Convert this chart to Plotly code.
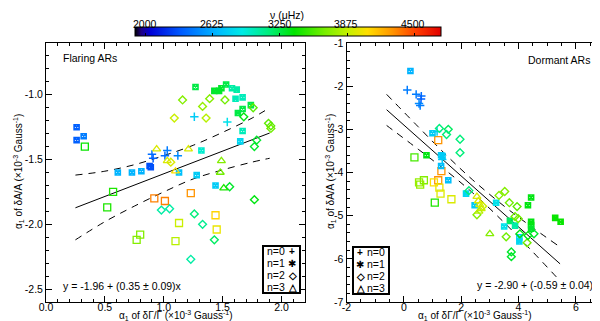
import plotly.graph_objects as go

# ---------------- data ----------------
# Left panel: Flaring ARs  (x = alpha1 of dGamma/Gamma, y = alpha1 of dA/A, f = frequency in muHz)
fl_n0_x = [1.26, 1.54, 1.03, 0.90, 0.91, 1.01, 1.12]
fl_n0_y = [-1.17, -1.21, -1.43, -1.46, -1.49, -1.47, -1.47]
fl_n0_f = [2750, 2850, 2450, 2400, 2350, 2400, 2500]

fl_n1_x = [1.27, 1.43, 1.47, 1.49, 1.53, 1.58, 1.62, 1.61, 1.67, 1.74, 1.67, 1.63, 0.26, 0.26, 0.32,
           1.67, 1.65, 1.32, 0.88, 0.89, 1.13, 0.61, 0.73, 0.81, 1.28, 1.44]
fl_n1_y = [-0.94, -0.97, -0.97, -0.95, -0.92, -0.95, -0.96, -1.03, -1.02, -1.08, -1.11, -1.14, -1.25, -1.35, -1.32,
           -1.28, -1.36, -1.43, -1.55, -1.56, -1.60, -1.60, -1.60, -1.59, -1.62, -1.70]
fl_n1_f = [3250, 3300, 3300, 3300, 3250, 3050, 3050, 3000, 3000, 3250, 3250, 3250, 2350, 2350, 2450,
           3000, 2800, 2950, 2300, 2300, 2700, 2650, 2650, 2650, 2750, 2750]

fl_n2_x = [1.16, 1.39, 1.52, 1.33, 1.76, 1.09, 1.36, 1.68, 1.89, 1.91, 1.91, 1.79, 1.77, 1.06, 1.56, 1.77,
           0.98, 1.05, 1.26, 1.33, 1.43, 1.23]
fl_n2_y = [-1.04, -1.03, -1.04, -1.09, -1.10, -1.18, -1.18, -1.17, -1.22, -1.24, -1.26, -1.35, -1.40, -1.52, -1.71, -1.81,
           -1.89, -1.88, -1.92, -2.00, -2.12, -2.27]
fl_n2_f = [3700, 3700, 3650, 3750, 3600, 3900, 3850, 3350, 3600, 3600, 3650, 3300, 3300, 3950, 3300, 3350,
           3050, 3050, 3150, 3100, 3200, 3050]

fl_n3_x = [0.94, 1.21, 1.03, 1.10, 1.49, 1.48, 1.51]
fl_n3_y = [-1.42, -1.42, -1.51, -1.59, -1.51, -1.60, -1.72]
fl_n3_f = [3950, 3950, 3950, 4050, 3700, 3650, 3450]

fl_sq_x = [0.33, 0.57, 0.52, 0.92, 1.01, 1.23, 1.44, 0.80, 0.77, 1.10, 1.13, 1.45]
fl_sq_y = [-1.40, -1.75, -1.87, -1.80, -1.82, -1.76, -1.93, -2.08, -2.12, -2.13, -1.99, -2.04]
fl_sq_f = [3400, 3450, 3450, 4350, 4350, 4300, 4100, 3700, 3700, 3850, 3900, 4000]

# Fit: y = -1.96 + 0.35 x, and dashed confidence band
fl_fit_a, fl_fit_b = -1.96, 0.35
fl_fit_xrange = [0.25, 1.9]
fl_band_x = [0.25, 0.5, 0.75, 1.0, 1.25, 1.5, 1.75, 1.9]
fl_band_hi = [-1.62, -1.59, -1.54, -1.47, -1.39, -1.29, -1.18, -1.10]
fl_band_lo = [-2.12, -1.98, -1.86, -1.75, -1.65, -1.58, -1.52, -1.49]

# Right panel: Dormant ARs
dm_n0_x = [0.12, 0.43, 0.61, 0.60, 0.53, 0.57, 1.16, 1.34]
dm_n0_y = [-2.09, -2.19, -2.23, -2.30, -2.40, -2.45, -3.05, -3.70]
dm_n0_f = [2450, 2450, 2400, 2350, 2500, 2450, 2750, 2750]

dm_n1_x = [0.23, 1.00, 0.79, 1.30, 1.35, 1.30, 1.55, 2.17, 3.22, 2.47, 4.44, 4.33, 5.28, 5.47, 3.70, 4.44,
           3.50, 3.88, 4.44, 4.44, 4.03, 4.03]
dm_n1_y = [-1.65, -3.09, -3.60, -3.60, -3.62, -3.85, -4.18, -4.49, -4.70, -4.76, -4.58, -4.76, -5.05, -5.14, -5.12, -5.14,
           -5.25, -5.23, -5.22, -5.30, -5.50, -5.60]
dm_n1_f = [2650, 2750, 3350, 2750, 2750, 2700, 2700, 2800, 2850, 2750, 3350, 3350, 3400, 3400, 3200, 3350,
           2850, 3050, 3350, 3300, 2800, 2800]

dm_n2_x = [1.24, 1.55, 1.49, 1.96, 1.96, 2.27, 3.32, 3.52, 3.68, 3.95, 3.88, 3.99, 3.57, 4.05, 4.30, 4.33,
           4.54, 3.75, 3.75, 2.75, 2.55]
dm_n2_y = [-2.98, -3.00, -3.12, -3.23, -3.54, -4.42, -4.53, -4.44, -4.70, -4.79, -5.02, -5.07, -5.49, -5.42, -5.63, -5.46,
           -5.42, -5.84, -5.95, -4.78, -4.98]
dm_n2_f = [3150, 3200, 3150, 3150, 3150, 3150, 3700, 3700, 3650, 3600, 3650, 3650, 3650, 3350, 3650, 3350,
           3300, 3300, 3300, 3900, 3700]

dm_n3_x = [2.55, 2.60, 2.65, 2.70, 2.62, 3.00]
dm_n3_y = [-4.56, -4.66, -4.75, -4.84, -4.90, -5.42]
dm_n3_f = [3950, 3950, 3950, 3900, 3850, 3700]

dm_sq_x = [1.20, 0.37, 1.31, 1.20, 1.05, 1.24, 1.28, 1.66, 0.53, 0.70, 0.57, 1.08]
dm_sq_y = [-3.25, -3.65, -3.97, -4.18, -4.23, -4.35, -4.49, -4.62, -4.23, -4.18, -4.28, -4.70]
dm_sq_f = [4300, 3550, 4300, 4300, 4050, 4000, 3950, 3950, 3750, 3700, 3750, 3450]

dm_fit_a, dm_fit_b = -2.90, -0.59
dm_fit_xrange = [-0.6, 5.45]
dm_band_x = [-0.6, 0.5, 1.5, 2.4, 3.5, 4.5, 5.35]
dm_band_hi = [-2.19, -2.94, -3.61, -4.17, -4.78, -5.28, -5.68]
dm_band_lo = [-2.91, -3.46, -3.97, -4.47, -5.16, -5.84, -6.44]

cbar_ticks = [2000, 2625, 3250, 3875, 4500]
legend_labels = ["n=0", "n=1", "n=2", "n=3"]

# ---------------- styling ----------------
W, H = 600, 321
FONT = "Liberation Sans, Arial, Helvetica, sans-serif"
FS = 10.5
CMIN, CMAX = 1900, 4750
CSCALE = [
    [0.00, "rgb(0,0,0)"],
    [0.02, "rgb(30,0,130)"],
    [0.05, "rgb(0,0,215)"],
    [0.15, "rgb(0,90,255)"],
    [0.27, "rgb(0,185,255)"],
    [0.35, "rgb(0,235,230)"],
    [0.44, "rgb(0,238,120)"],
    [0.52, "rgb(0,228,0)"],
    [0.62, "rgb(120,238,0)"],
    [0.70, "rgb(200,240,0)"],
    [0.76, "rgb(255,222,0)"],
    [0.84, "rgb(255,150,0)"],
    [0.92, "rgb(255,60,0)"],
    [1.00, "rgb(225,0,0)"],
]


def px(x):
    return x / W


def py(y):
    return 1 - y / H


fig = go.Figure()


def add_pts(xs, ys, fs, symbol, size, lw, xa, ya, showscale=False):
    marker = dict(symbol=symbol, size=size, color=fs, colorscale=CSCALE, cmin=CMIN, cmax=CMAX,
                  line=dict(width=lw))
    if showscale:
        marker.update(showscale=True, colorbar=dict(
            orientation="h", x=px(280), xanchor="center", len=306 / W, lenmode="fraction",
            y=py(32), yanchor="bottom", ypad=0, xpad=0, thickness=9, thicknessmode="pixels",
            outlinewidth=1, outlinecolor="black", tickvals=cbar_ticks, showticklabels=False,
            ticks="inside", ticklen=3, tickcolor="black", borderwidth=0))
    fig.add_trace(go.Scatter(x=xs, y=ys, mode="markers", xaxis=xa, yaxis=ya, marker=marker,
                             showlegend=False, hoverinfo="skip"))


def add_fit(a, b, xr, bx, bhi, blo, xa, ya):
    fig.add_trace(go.Scatter(x=xr, y=[a + b * xr[0], a + b * xr[1]], mode="lines", xaxis=xa, yaxis=ya,
                             line=dict(color="black", width=1), showlegend=False, hoverinfo="skip"))
    for yy in (bhi, blo):
        fig.add_trace(go.Scatter(x=bx, y=yy, mode="lines", xaxis=xa, yaxis=ya, line_shape="spline",
                                 line=dict(color="black", width=1, dash="7px,6px"),
                                 showlegend=False, hoverinfo="skip"))


add_fit(fl_fit_a, fl_fit_b, fl_fit_xrange, fl_band_x, fl_band_hi, fl_band_lo, "x", "y")
add_fit(dm_fit_a, dm_fit_b, dm_fit_xrange, dm_band_x, dm_band_hi, dm_band_lo, "x2", "y2")

for (xa, ya, grp) in [("x", "y", [(fl_sq_x, fl_sq_y, fl_sq_f), (fl_n0_x, fl_n0_y, fl_n0_f), (fl_n1_x, fl_n1_y, fl_n1_f),
                                   (fl_n2_x, fl_n2_y, fl_n2_f), (fl_n3_x, fl_n3_y, fl_n3_f)]),
                      ("x2", "y2", [(dm_sq_x, dm_sq_y, dm_sq_f), (dm_n0_x, dm_n0_y, dm_n0_f), (dm_n1_x, dm_n1_y, dm_n1_f),
                                     (dm_n2_x, dm_n2_y, dm_n2_f), (dm_n3_x, dm_n3_y, dm_n3_f)])]:
    sq, n0, n1, n2, n3 = grp
    add_pts(*sq, "square-open", 7, 1.3, xa, ya)
    add_pts(*n0, "cross-thin-open", 6, 1.5, xa, ya)
    add_pts(*n1, "square-x-open", 5, 1.6, xa, ya, showscale=(xa == "x"))
    add_pts(*n2, "diamond-open", 6, 1.4, xa, ya)
    add_pts(*n3, "triangle-up-open", 7, 1.3, xa, ya)

axis_common = dict(showline=True, linecolor="black", linewidth=1, mirror="allticks", ticks="inside",
                   ticklen=6, tickcolor="black", tickwidth=1, showgrid=False, zeroline=False,
                   automargin=False, tickfont=dict(size=FS, color="black", family=FONT))

y0, y1 = py(294), py(35)
fig.update_layout(
    width=W, height=H, margin=dict(l=0, r=0, t=0, b=0, autoexpand=False),
    paper_bgcolor="white", plot_bgcolor="white",
    font=dict(family=FONT, size=FS, color="black"),
    xaxis=dict(domain=[px(38), px(297)], range=[0, 2.2], anchor="y", ticklabelstandoff=-5,
               tickvals=[0, 0.5, 1.0, 1.5, 2.0], ticktext=["0.0", "0.5", "1.0", "1.5", "2.0"],
               minor=dict(ticks="inside", ticklen=3, dtick=0.1, tick0=0, tickcolor="black"), **axis_common),
    yaxis=dict(domain=[y0, y1], range=[-2.6, -0.6], anchor="x",
               tickvals=[-2.5, -2.0, -1.5, -1.0], ticktext=["-2.5", "-2.0", "-1.5", "-1.0"],
               minor=dict(ticks="inside", ticklen=3, dtick=0.1, tick0=0, tickcolor="black"), **axis_common),
    xaxis2=dict(domain=[px(338.5), px(596.5)], range=[-2, 7], anchor="y2", ticklabelstandoff=-5,
                tickvals=[-2, 0, 2, 4, 6], ticktext=["-2", "0", "2", "4", "6"],
                minor=dict(ticks="inside", ticklen=3, dtick=0.5, tick0=0, tickcolor="black"), **axis_common),
    yaxis2=dict(domain=[y0, y1], range=[-7, -1], anchor="x2",
                tickvals=[-7, -6, -5, -4, -3, -2, -1], ticktext=["-7", "-6", "-5", "-4", "-3", "-2", "-1"],
                minor=dict(ticks="inside", ticklen=3, dtick=0.2, tick0=0, tickcolor="black"), **axis_common),
)

ann = []


def text(x, y, t, xanchor="center", size=FS, angle=0, yanchor="middle"):
    ann.append(dict(x=px(x), y=py(y), xref="paper", yref="paper", text=t, showarrow=False,
                    xanchor=xanchor, yanchor=yanchor, textangle=angle,
                    font=dict(size=size, color="black", family=FONT)))


# colorbar labels and title
for v, xpix in zip(cbar_ticks, [137, 204, 272, 338, 405]):
    text(xpix, 16, str(v))
text(279, 7, "ν (μHz)")

# axis titles
xt = "α<sub>1</sub> of δΓ/Γ (×10<sup>-3</sup> Gauss<sup>-1</sup>)"
yt = "α<sub>1</sub> of δA/A (×10<sup>-3</sup> Gauss<sup>-1</sup>)"
text(168, 307, xt, size=10)
text(467, 307, xt, size=10)
text(11, 164, yt, angle=-90, size=10)
text(323, 164, yt, angle=-90, size=10)

# panel labels and fit equations
text(53, 50, "Flaring ARs", xanchor="left")
text(584, 52, "Dormant ARs", xanchor="right")
text(53, 278, "y = -1.96 + (0.35 ± 0.09)x", xanchor="left")
text(593, 277, "y = -2.90 + (-0.59 ± 0.04)x", xanchor="right")

# legends
glyphs = ["<b>+</b>", "✱", "<b>◇</b>", "<b>△</b>"]
rows = [243, 255, 267, 279]
for lab, g, r in zip(legend_labels, glyphs, rows):
    text(257, r, lab, xanchor="left")
    text(284, r, g, size=10)
    text(352, r + 1, g, size=10)
    text(357, r + 1, lab, xanchor="left")

fig.update_layout(annotations=ann, shapes=[
    dict(type="rect", xref="paper", yref="paper", x0=px(255), x1=px(292), y0=py(285), y1=py(238),
         line=dict(color="black", width=2)),
    dict(type="rect", xref="paper", yref="paper", x0=px(345), x1=px(381), y0=py(286), y1=py(239),
         line=dict(color="black", width=2)),
])

fig.write_html("out.html")
